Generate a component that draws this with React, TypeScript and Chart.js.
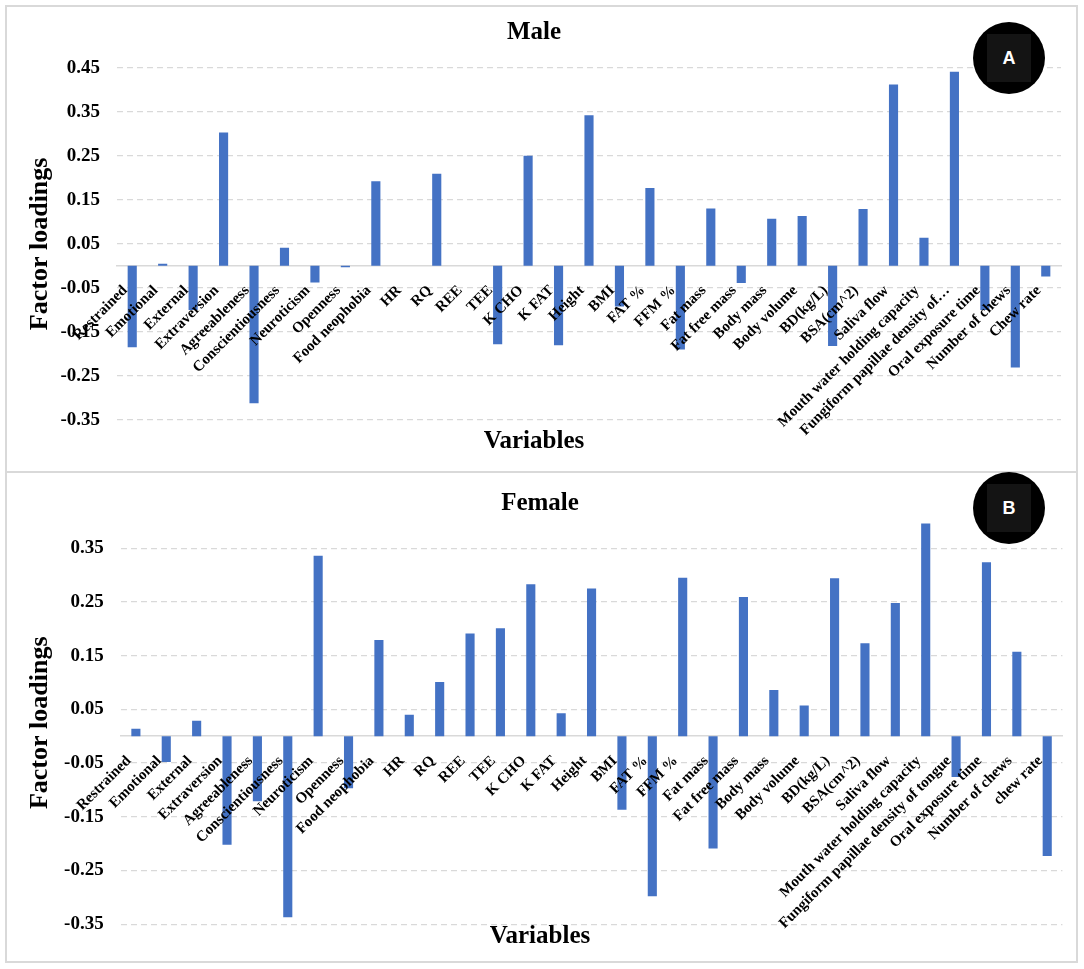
import React, { useEffect, useRef } from 'react'
import { Chart, registerables } from 'chart.js'

Chart.register(...registerables)

// ---- data ----
const maleLabels = [
  'Restrained', 'Emotional', 'External', 'Extraversion', 'Agreeableness', 'Conscientiousness',
  'Neuroticism', 'Openness', 'Food neophobia', 'HR', 'RQ', 'REE', 'TEE', 'K CHO', 'K FAT',
  'Height', 'BMI', 'FAT %', 'FFM %', 'Fat mass', 'Fat free mass', 'Body mass', 'Body volume',
  'BD(kg/L)', 'BSA(cm^2)', 'Saliva flow', 'Mouth water holding capacity',
  'Fungiform papillae density of…', 'Oral exposure time', 'Number of chews', 'Chew rate',
]
const maleValues = [
  -0.185, 0.005, -0.1, 0.303, -0.312, 0.041, -0.038, -0.003, 0.192, 0, 0.209, 0, -0.178, 0.25, -0.18,
  0.342, -0.092, 0.177, -0.19, 0.13, -0.039, 0.107, 0.113, -0.182, 0.129, 0.412, 0.064, 0.441, -0.1,
  -0.231, -0.024,
]
const maleTicks = [-0.35, -0.25, -0.15, -0.05, 0.05, 0.15, 0.25, 0.35, 0.45]

const femaleLabels = [
  'Restrained', 'Emotional', 'External', 'Extraversion', 'Agreeableness', 'Conscientiousness',
  'Neuroticism', 'Openness', 'Food neophobia', 'HR', 'RQ', 'REE', 'TEE', 'K CHO', 'K FAT',
  'Height', 'BMI', 'FAT %', 'FFM %', 'Fat mass', 'Fat free mass', 'Body mass', 'Body volume',
  'BD(kg/L)', 'BSA(cm^2)', 'Saliva flow', 'Mouth water holding capacity',
  'Fungiform papillae density of tongue', 'Oral exposure time', 'Number of chews', 'chew rate',
]
const femaleValues = [
  0.014, -0.048, 0.029, -0.202, -0.121, -0.337, 0.336, -0.097, 0.179, 0.04, 0.101, 0.191, 0.201, 0.283,
  0.043, 0.275, -0.137, -0.298, 0.295, -0.209, 0.259, 0.086, 0.057, 0.294, 0.173, 0.248, 0.396, -0.076,
  0.324, 0.157, -0.223,
]
const femaleTicks = [-0.35, -0.25, -0.15, -0.05, 0.05, 0.15, 0.25, 0.35]

const SERIF = "'Liberation Serif', 'Times New Roman', serif"

interface PanelDef {
  title: string
  badge: string
  labels: string[]
  values: number[]
  ticks: number[]
  min: number
  max: number
  yWidth: number
  padRight: number
  titlePad: { top: number; bottom: number }
  subPad: { top: number; bottom: number }
  subLineHeight: number
  box: { left: number; top: number; width: number; height: number }
  badgeCenter: { x: number; y: number }
}

const panels: PanelDef[] = [
  {
    title: 'Male', badge: 'A', labels: maleLabels, values: maleValues, ticks: maleTicks,
    min: -0.35, max: 0.45, yWidth: 110, padRight: 15,
    titlePad: { top: 11, bottom: 19.7 }, subPad: { top: 6.7, bottom: 14.3 }, subLineHeight: 1.2,
    box: { left: 5, top: 5, width: 1073, height: 468 }, badgeCenter: { x: 1009, y: 58 },
  },
  {
    title: 'Female', badge: 'B', labels: femaleLabels, values: femaleValues, ticks: femaleTicks,
    min: -0.35, max: 0.4, yWidth: 113.7, padRight: 3,
    titlePad: { top: 16, bottom: 2.3 }, subPad: { top: 0.2, bottom: 11.5 }, subLineHeight: 1.0,
    box: { left: 5, top: 471, width: 1073, height: 492 }, badgeCenter: { x: 1009, y: 508 },
  },
]

function buildConfig(p: PanelDef): any {
  return {
    type: 'bar',
    data: {
      labels: p.labels,
      datasets: [{
        data: p.values,
        backgroundColor: '#4472C4',
        borderWidth: 0,
        barPercentage: 0.3,
        categoryPercentage: 1,
      }],
    },
    options: {
      animation: false,
      responsive: true,
      maintainAspectRatio: false,
      layout: { padding: { left: 0, right: p.padRight, top: 0, bottom: 0 } },
      plugins: {
        legend: { display: false },
        tooltip: { enabled: false },
        title: {
          display: true, text: p.title, color: '#000',
          font: { family: SERIF, size: 25, weight: 'bold', lineHeight: 1.2 },
          padding: p.titlePad,
        },
        subtitle: {
          display: true, position: 'bottom', text: 'Variables', color: '#000',
          font: { family: SERIF, size: 25, weight: 'bold', lineHeight: p.subLineHeight },
          padding: p.subPad,
        },
      },
      scales: {
        x: {
          type: 'category',
          position: { y: 0 },
          grid: { display: false, drawTicks: false },
          border: { display: true, color: '#D9D9D9', width: 1.5 },
          ticks: {
            z: 1, autoSkip: false, minRotation: 45, maxRotation: 45, padding: 16, labelOffset: -7,
            color: '#000', font: { family: SERIF, size: 15, weight: 'bold' },
          },
        },
        y: {
          min: p.min,
          max: p.max,
          afterFit: (s: any) => { s.width = p.yWidth },
          afterBuildTicks: (s: any) => { s.ticks = p.ticks.map(v => ({ value: v })) },
          grid: { color: '#D9D9D9', lineWidth: 1.3, drawTicks: false },
          border: { display: false, dash: [6, 4] },
          ticks: {
            padding: 17, color: '#000',
            font: { family: SERIF, size: 19, weight: 'bold' },
            callback: (v: any) => Number(v).toFixed(2),
          },
          title: {
            display: true, text: 'Factor loadings', color: '#000',
            font: { family: SERIF, size: 26, weight: 'bold' },
            padding: { top: 18, bottom: 0 },
          },
        },
      },
    },
  }
}

function Panel({ p }: { p: PanelDef }) {
  const canvasRef = useRef<HTMLCanvasElement>(null)

  useEffect(() => {
    if (!canvasRef.current) return
    const chart = new Chart(canvasRef.current, buildConfig(p))
    return () => chart.destroy()
  }, [p])

  const r = 36
  return (
    <>
      <div style={{
        position: 'absolute', left: p.box.left, top: p.box.top, width: p.box.width, height: p.box.height,
        boxSizing: 'border-box', border: '2px solid #D9D9D9', background: '#fff',
      }}>
        <div style={{ position: 'relative', width: '100%', height: '100%' }}>
          <canvas ref={canvasRef} />
        </div>
      </div>
      <div style={{
        position: 'absolute', left: p.badgeCenter.x - r, top: p.badgeCenter.y - r, width: 2 * r, height: 2 * r,
        borderRadius: '50%', background: '#000', display: 'flex', alignItems: 'center', justifyContent: 'center',
      }}>
        <div style={{
          width: 44, height: 48, background: '#141414', color: '#fff', display: 'flex',
          alignItems: 'center', justifyContent: 'center',
          font: "bold 18px 'Liberation Sans', Arial, sans-serif",
        }}>{p.badge}</div>
      </div>
    </>
  )
}

export default function App() {
  return (
    <div style={{ position: 'absolute', left: 0, top: 0, width: 1084, height: 969, background: '#fff' }}>
      {panels.map(p => <Panel key={p.title} p={p} />)}
    </div>
  )
}
